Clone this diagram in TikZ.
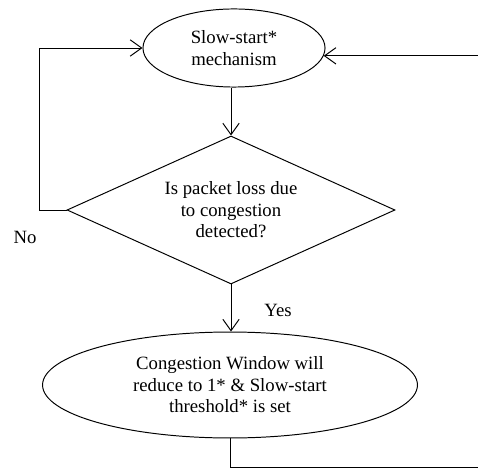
\documentclass[tikz,border=0pt]{standalone}
\usepackage{fontspec}
\setmainfont{Liberation Serif}
\usetikzlibrary{shapes.geometric,arrows.meta}
\tikzset{
  >={Straight Barb[length=7pt,width=10pt]},
  every node/.style={font=\fontsize{11.5}{13.2}\selectfont},
  oval/.style={draw,ellipse,inner sep=0pt,align=center},
  decide/.style={draw,diamond,aspect=2.2,inner sep=0pt,align=center},
}
\begin{document}
\begin{tikzpicture}[x=0.6135pt,y=-0.6135pt,line width=0.6pt]
  \useasboundingbox (0,0) rectangle (478,469);
  \clip (0,0) rectangle (478,469);
  % blocks
  \node[oval,minimum width=111.7pt,minimum height=47.9pt] (slow) at (234,48) {Slow-start*\\mechanism};
  \node[decide,minimum width=201.2pt,minimum height=90.8pt] (loss) at (231,210) {Is packet loss due\\to congestion\\detected?};
  \node[oval,minimum width=230pt,minimum height=65pt] (cwnd) at (230,385) {Congestion Window will\\reduce to 1* \& Slow-start\\threshold* is set};
  \node (no) at (25,237) {No};
  \node (yes) at (278,310) {Yes};
  % connectors
  \draw[->] (slow.south -| loss.north) -- (loss.north);
  \draw[->] (loss.south) -- (loss.south |- cwnd.north);
  \draw[->] (loss.west) -- ++(-27,0) |- (slow.west);
  \draw[->] (cwnd.south) |- ++(260,29) |- (slow.-5);
\end{tikzpicture}
\end{document}
